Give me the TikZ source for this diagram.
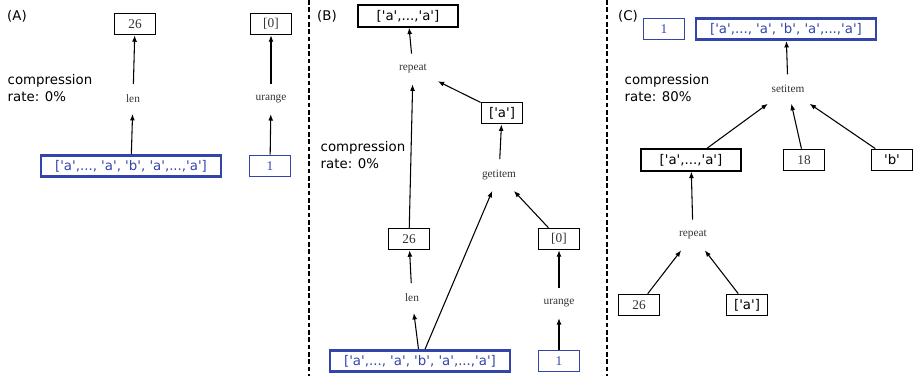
\documentclass[tikz,border=0pt]{standalone}
\usepackage{fontspec}
\setmainfont{Liberation Serif}
\setsansfont{DejaVu Sans}
\usepackage{tikz}
\usetikzlibrary{arrows.meta}
\definecolor{TraceBlue}{HTML}{3344AA}
\definecolor{TraceInk}{HTML}{333333}
\newcommand{\sq}{\textquotesingle}
\newcommand{\fulllist}{[\sq a\sq,..., \sq a\sq, \sq b\sq, \sq a\sq,...,\sq a\sq]}
\newcommand{\runlist}{[\sq a\sq,...,\sq a\sq]}

\begin{document}
\begin{tikzpicture}[
  x=0.75pt,y=-0.75pt,
  box/.style={draw=black,line width=0.9pt,minimum width=31pt,minimum height=16pt,
    inner sep=1pt,font=\fontsize{10}{12}\selectfont,text=TraceInk},
  strbox/.style={box,line width=1.1pt,font=\sffamily\fontsize{10}{12}\selectfont,text=black},
  listbox/.style={draw=black,line width=1.4pt,minimum width=75pt,minimum height=16pt,
    inner sep=1pt,font=\sffamily\fontsize{10}{12}\selectfont},
  blubox/.style={box,draw=TraceBlue,text=TraceBlue},
  bigblue/.style={draw=TraceBlue,line width=2pt,minimum width=135pt,minimum height=16pt,
    inner sep=1pt,font=\sffamily\fontsize{10}{12}\selectfont,text=TraceBlue},
  op/.style={inner sep=8pt,font=\fontsize{8.5}{10}\selectfont,text=TraceInk},
  rate/.style={align=left,anchor=west,font=\sffamily\fontsize{10}{13}\selectfont},
  tag/.style={font=\sffamily\fontsize{10}{12}\selectfont},
  arrow/.style={-{Latex[length=1.7mm,width=1.3mm]},line width=0.8pt},
  divider/.style={dashed,dash pattern=on 3.5pt off 2pt,line width=0.8pt}
]
\useasboundingbox (0,0) rectangle (915,376);

\draw[divider] (309,0) -- (309,376);
\draw[divider] (607,0) -- (607,376);

% (A)
\node[tag] (tagA) at (17,16) {(A)};
\node[rate] (rateA) at (3,88) {compression\\rate: 0\%};
\node[box] (lenoutA) at (135,24) {26};
\node[box] (rngoutA) at (271,24) {[0]};
\node[op] (lenA) at (133,99) {len};
\node[op] (rngA) at (271,99) {urange};
\node[bigblue] (listA) at (131,166) {\fulllist};
\node[blubox] (oneA) at (270,166) {1};
\draw[arrow] (listA) -- (lenA);
\draw[arrow] (lenA) -- (lenoutA);
\draw[arrow] (oneA) -- (rngA);
\draw[arrow] (rngA) -- (rngoutA);

% (B)
\node[tag] (tagB) at (327,16) {(B)};
\node[rate] (rateB) at (316,155) {compression\\rate: 0\%};
\node[listbox] (resB) at (408,16) {\runlist};
\node[op] (repB) at (413,69) {repeat};
\node[strbox] (itemB) at (502,113) {[\sq a\sq]};
\node[op] (getB) at (499,175) {getitem};
\node[box] (lenoutB) at (409,239) {26};
\node[box] (rngoutB) at (559,239) {[0]};
\node[op] (lenB) at (412,298) {len};
\node[op] (rngB) at (559,303) {urange};
\node[bigblue] (listB) at (420,361) {\fulllist};
\node[blubox] (oneB) at (559,361) {1};
\draw[arrow] (listB) -- (lenB);
\draw[arrow] (listB) -- (getB);
\draw[arrow] (oneB) -- (rngB);
\draw[arrow] (lenB) -- (lenoutB);
\draw[arrow] (rngB) -- (rngoutB);
\draw[arrow] (rngoutB) -- (getB);
\draw[arrow] (getB) -- (itemB);
\draw[arrow] (lenoutB) -- (repB);
\draw[arrow] (itemB) -- (repB);
\draw[arrow] (repB) -- (resB);

% (C)
\node[tag] (tagC) at (628,16) {(C)};
\node[rate] (rateC) at (620,88) {compression\\rate: 80\%};
\node[blubox] (oneC) at (664,29) {1};
\node[bigblue] (resC) at (786,29) {\fulllist};
\node[op] (setC) at (788,89) {setitem};
\node[listbox] (listC) at (691,160) {\runlist};
\node[box] (idxC) at (804,160) {18};
\node[strbox] (valC) at (892,160) {\sq b\sq};
\node[op] (repC) at (693,235) {repeat};
\node[box] (numC) at (639,305) {26};
\node[strbox] (itemC) at (747,305) {[\sq a\sq]};
\draw[arrow] (numC) -- (repC);
\draw[arrow] (itemC) -- (repC);
\draw[arrow] (repC) -- (listC);
\draw[arrow] (listC) -- (setC);
\draw[arrow] (idxC) -- (setC);
\draw[arrow] (valC) -- (setC);
\draw[arrow] (setC) -- (resC);
\end{tikzpicture}
\end{document}
